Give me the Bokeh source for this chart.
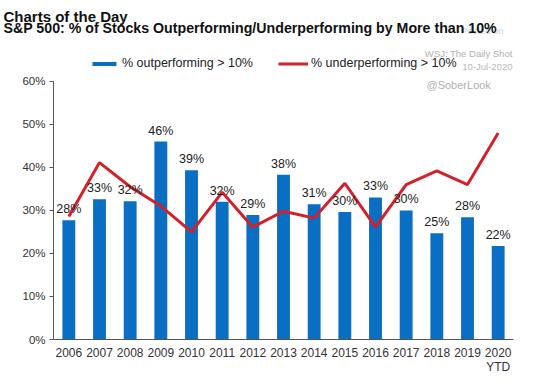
from bokeh.plotting import figure
from bokeh.models import (ColumnDataSource, FactorRange, Label, LabelSet, Legend, LegendItem,
                          FixedTicker, Range1d, CategoricalAxis, CustomJSTickFormatter)
from bokeh.core.properties import value
from bokeh.embed import file_html
from bokeh.resources import INLINE

# ---- data ----
years = ["2006", "2007", "2008", "2009", "2010", "2011", "2012", "2013",
         "2014", "2015", "2016", "2017", "2018", "2019", "2020"]
outperforming = [27.7, 32.6, 32.1, 46.0, 39.3, 32.0, 28.9, 38.3,
                 31.4, 29.6, 33.0, 30.0, 24.7, 28.4, 21.7]
underperforming = [28.6, 41.1, 35.5, 31.0, 25.0, 34.2, 26.1, 29.8,
                   28.2, 36.3, 26.1, 36.0, 39.2, 36.0, 48.0]
y_ticks = [0, 10, 20, 30, 40, 50, 60]
ytd_year = "2020"
ytd_text = "YTD"
title_1 = "Charts of the Day"
title_2 = "S&P 500: % of Stocks Outperforming/Underperforming by More than 10%"
legend_labels = ["% outperforming > 10%", "% underperforming > 10%"]

FONT = "Liberation Sans"
BLUE = "#0a6fc2"
RED = "#d4202a"
W, H = 536, 378
TOP, BOTTOM, LEFT, RIGHT = 42, 39, 53, 23
Y_TOP = 60 * (H - TOP - BOTTOM) / 260  # frame reaches above the 60% tick


def px_x(px):  # canvas pixel -> categorical synthetic coordinate
    return (px - LEFT) * len(years) / (W - LEFT - RIGHT)


def px_y(py):  # canvas pixel -> data y
    return (H - BOTTOM - py) * Y_TOP / (H - TOP - BOTTOM)


src = ColumnDataSource(dict(
    x=years, out=outperforming, under=underperforming,
    lab=[f"{round(v)}%" for v in outperforming],
))

p = figure(x_range=FactorRange(factors=years, range_padding=0), y_range=Range1d(0, Y_TOP),
           width=W, height=H, output_backend="svg", toolbar_location=None, title=None,
           min_border_left=LEFT, min_border_right=RIGHT, min_border_top=TOP,
           min_border_bottom=BOTTOM)
p.outline_line_color = None
p.xgrid.grid_line_color = None
p.ygrid.grid_line_color = None

bars = p.vbar(x="x", top="out", width=0.42, source=src, color=BLUE, line_color=None)
line = p.line(x="x", y="under", source=src, color=RED, line_width=3)

labels = LabelSet(x="x", y="out", text="lab", source=src, text_align="center",
                  text_baseline="bottom", y_offset=4, text_font=value(FONT),
                  text_font_size=value("12.5px"), text_color="#222222")
p.add_layout(labels)

# axes
p.yaxis.ticker = FixedTicker(ticks=y_ticks)
p.yaxis.bounds = (0, 60)
p.yaxis.major_label_overrides = {t: f"{t}%" for t in y_ticks}
p.yaxis.minor_tick_line_color = None
p.yaxis.major_tick_in = 0
p.yaxis.major_tick_out = 4
p.yaxis.major_label_standoff = 4
for ax in (p.xaxis, p.yaxis):
    ax.axis_line_color = "#555555"
    ax.major_tick_line_color = "#555555"
    ax.major_label_text_font = FONT
    ax.major_label_text_color = "#333333"
p.yaxis.major_label_text_font_size = "11.5px"
p.xaxis.major_label_text_font_size = "12px"
p.xaxis.major_tick_line_color = None
p.xaxis.major_tick_out = 0
p.xaxis.major_tick_in = 0
p.xaxis.major_label_standoff = 8

ytd_axis = CategoricalAxis(axis_line_color=None, major_tick_line_color=None,
                           minor_tick_line_color=None, major_tick_in=0, major_tick_out=0,
                           major_label_standoff=0,
                           major_label_text_font=FONT, major_label_text_font_size="12px",
                           major_label_text_color="#333333",
                           formatter=CustomJSTickFormatter(
                               args=dict(ytd=ytd_year, txt=ytd_text),
                               code="return tick == ytd ? txt : '';"))
p.add_layout(ytd_axis, "below")

# legend
legend = Legend(items=[LegendItem(label=legend_labels[0], renderers=[bars]),
                       LegendItem(label=legend_labels[1], renderers=[line])],
                orientation="horizontal", location=(36, 269),
                glyph_width=30, glyph_height=5, label_standoff=3, spacing=25,
                padding=0, margin=0, border_line_color=None, background_fill_alpha=0,
                label_text_font=FONT, label_text_font_size="12.5px",
                label_text_color="#222222", label_height=12)
p.add_layout(legend)

# watermark texts (screen units from the frame's bottom-left)
for txt, xx, yy, al, sz, col in [
    ("WSJ: The Daily Shot", 459, 286, "right", "9.5px", "#b0b0b0"),
    ("10-Jul-2020", 459, 273, "right", "9.5px", "#b8b8b8"),
    ("@SoberLook", 373, 255, "left", "11px", "#b0b0b0"),
]:
    p.add_layout(Label(x=xx, y=yy, x_units="screen", y_units="screen", text=txt,
                       text_align=al, text_baseline="middle", text_font=FONT,
                       text_font_size=sz, text_color=col))

# texts above the frame (placed in the top border through the plot's scales)
for txt, xp, yp, al, sz, style, col in [
    ("Posted on", 503, 28, "right", "9.5px", "normal", "#d6d6d6"),
    (title_1, 3, 14, "left", "15px", "bold", "#111111"),
    (title_2, 3, 25.5, "left", "14.2px", "bold", "#111111"),
]:
    p.add_layout(Label(x=px_x(xp), y=px_y(yp), text=txt, text_align=al,
                       text_baseline="alphabetic", text_font=FONT, text_font_size=sz,
                       text_font_style=style, text_color=col, text_line_height=0.01),
                 "above")

open("out.html", "w").write(file_html(p, INLINE))
